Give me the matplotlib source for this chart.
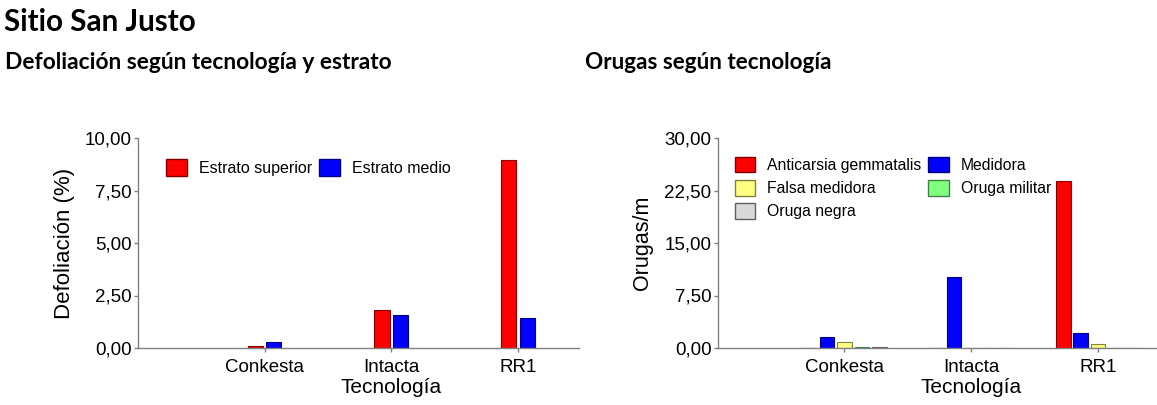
import numpy as np
import matplotlib.pyplot as plt
from matplotlib.patches import Patch

# Datos
categorias = ['Conkesta', 'Intacta', 'RR1']

# Defoliacion (%)
estrato_superior = [0.11, 1.79, 8.97]
estrato_medio = [0.30, 1.56, 1.41]

# Orugas/m
anticarsia = [0.0, 0.0, 23.86]
medidora = [1.60, 10.10, 2.14]
falsa_medidora = [0.80, 0.0, 0.57]
oruga_militar = [0.15, 0.0, 0.0]
oruga_negra = [0.15, 0.0, 0.0]

yticks_def = [0, 2.5, 5, 7.5, 10]
yticks_oru = [0, 7.5, 15, 22.5, 30]

plt.rcParams['font.family'] = ['Liberation Sans', 'DejaVu Sans']

fig = plt.figure(figsize=(11.57, 4.05), dpi=100)
W, H = 1157, 405


def fmt(v):
    return f'{v:.2f}'.replace('.', ',')


def style_axes(ax, yticks, xmax):
    for s in ['top', 'right']:
        ax.spines[s].set_visible(False)
    for s in ['left', 'bottom']:
        ax.spines[s].set_color('#808080')
        ax.spines[s].set_linewidth(1.0)
    ax.set_xlim(0, xmax)
    ax.set_ylim(yticks[0], yticks[-1])
    ax.set_yticks(yticks)
    ax.set_yticklabels([fmt(v) for v in yticks])
    ax.set_xticks(np.arange(1, len(categorias) + 1))
    ax.set_xticklabels(categorias)
    ax.tick_params(axis='both', colors='#808080', length=3, width=1,
                   labelsize=13.5, labelcolor='black', pad=1.5)
    ax.tick_params(axis='x', pad=5)
    ax.set_xlabel('Tecnología', fontsize=15)
    ax.xaxis.set_label_coords(2 / xmax, -0.145)


# --- Grafico izquierdo: defoliacion ---
ax1 = fig.add_axes([137.7 / W, 1 - 348 / H, (579 - 137.7) / W, 210 / H])
x = np.arange(1, len(categorias) + 1)
paso = 0.146
ancho = 0.12
ax1.bar(x - paso / 2, estrato_superior, ancho, color='#ff0000', edgecolor='#800000', linewidth=0.8)
ax1.bar(x + paso / 2, estrato_medio, ancho, color='#0000ff', edgecolor='#000080', linewidth=0.8)
style_axes(ax1, yticks_def, 3.48)
ax1.set_ylabel('Defoliación (%)', fontsize=16, labelpad=7)

h1 = [Patch(facecolor='#ff0000', edgecolor='#800000'),
      Patch(facecolor='#0000ff', edgecolor='#000080')]
ax1.legend(h1, ['Estrato superior', 'Estrato medio'], ncol=2, frameon=False,
           loc='upper left', bbox_to_anchor=(0.05, 0.93), borderaxespad=0,
           fontsize=11.5, handlelength=1.3, handleheight=1.3,
           handletextpad=0.75, columnspacing=0.45)

# --- Grafico derecho: orugas ---
ax2 = fig.add_axes([717.7 / W, 1 - 348 / H, (1157 - 717.7) / W, 210 / H])
series = [anticarsia, medidora, falsa_medidora, oruga_militar, oruga_negra]
nombres = ['Anticarsia gemmatalis', 'Medidora', 'Falsa medidora', 'Oruga militar', 'Oruga negra']
colores = ['#ff0000', '#0000ff', '#ffff80', '#80ff80', '#d9d9d9']
bordes = ['#800000', '#000080', '#808040', '#408040', '#606060']
paso2 = 0.137
ancho2 = 0.115
handles = {}
for i, (vals, nom, c, b) in enumerate(zip(series, nombres, colores, bordes)):
    ax2.bar(x + (i - 2) * paso2, vals, ancho2, color=c, edgecolor=b, linewidth=0.8)
    handles[nom] = Patch(facecolor=c, edgecolor=b)
style_axes(ax2, yticks_oru, 3.465)
ax2.set_ylabel('Orugas/m', fontsize=15.5, labelpad=8)

orden = ['Anticarsia gemmatalis', 'Falsa medidora', 'Oruga negra', 'Medidora', 'Oruga militar']
ax2.legend([handles[n] for n in orden], orden, ncol=2, frameon=False,
           loc='upper left', bbox_to_anchor=(0.025, 0.94), borderaxespad=0,
           fontsize=11.3, handlelength=1.3, handleheight=1.15,
           handletextpad=0.75, columnspacing=0.45, labelspacing=0.45)

# --- Titulos ---
fig.text(4 / W, 1 - 31 / H, 'Sitio San Justo', fontsize=21.3, fontweight='bold',
         family=['Lato', 'DejaVu Sans'], va='baseline')
fig.text(5 / W, 1 - 69 / H, 'Defoliación según tecnología y estrato', fontsize=16.4,
         fontweight='bold', family=['Lato', 'DejaVu Sans'], va='baseline')
fig.text(585 / W, 1 - 69 / H, 'Orugas según tecnología', fontsize=16.2,
         fontweight='bold', family=['Lato', 'DejaVu Sans'], va='baseline')

fig.savefig('out.png', dpi=100)
